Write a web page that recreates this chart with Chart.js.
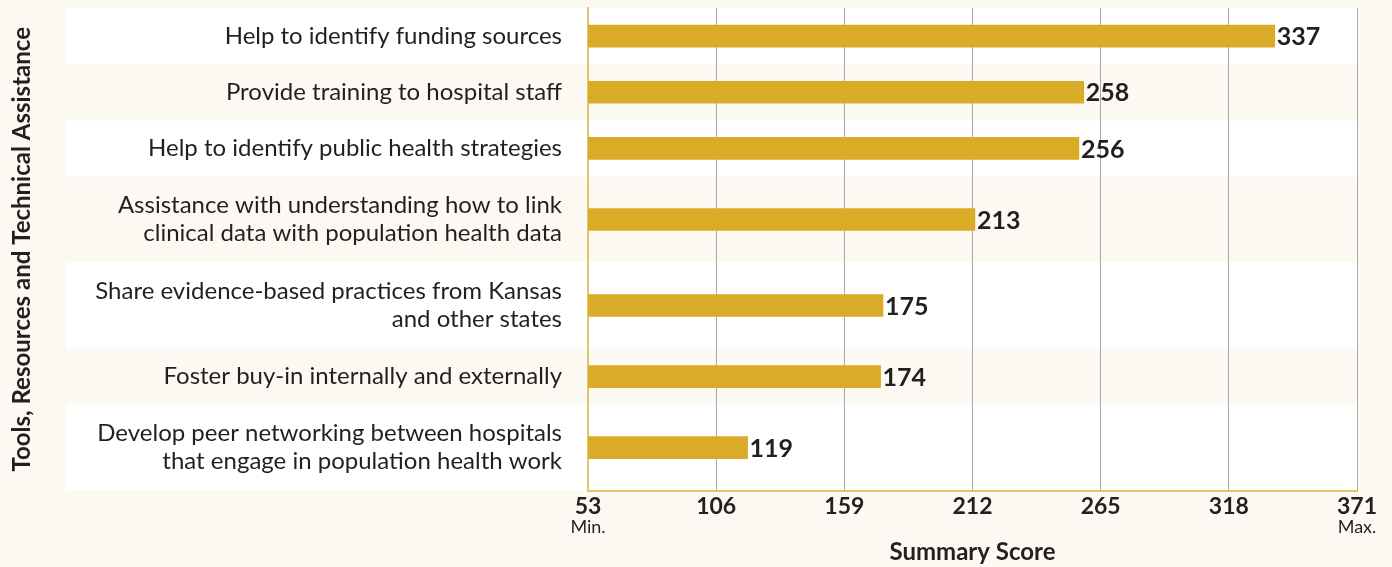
<!DOCTYPE html>
<html>
<head>
<meta charset="utf-8">
<script src="https://cdn.jsdelivr.net/npm/chart.js@4.4.1/dist/chart.umd.min.js"></script>
<style>
  html, body { margin: 0; padding: 0; background: #fcf9f2; }
  #wrap { width: 1392px; height: 567px; }
</style>
</head>
<body>
<div id="wrap"><canvas id="chart"></canvas></div>
<script>
// Dados do gráfico
const categories = [
  ['Help to identify funding sources'],
  ['Provide training to hospital staff'],
  ['Help to identify public health strategies'],
  ['Assistance with understanding how to link', 'clinical data with population health data'],
  ['Share evidence-based practices from Kansas', 'and other states'],
  ['Foster buy-in internally and externally'],
  ['Develop peer networking between hospitals', 'that engage in population health work']
];
const scores = [337, 258, 256, 213, 175, 174, 119];
const xTicks = [53, 106, 159, 212, 265, 318, 371];
const xTickNotes = ['Min.', '', '', '', '', '', 'Max.'];

// Altura de cada linha proporcional ao número de linhas do rótulo
const rowWeights = categories.map(c => 1 + 0.53 * (c.length - 1));
const rowStarts = [];
let acc = 0;
rowWeights.forEach(w => { rowStarts.push(acc); acc += w; });
const totalRows = acc;
const rowCenters = rowWeights.map((w, i) => rowStarts[i] + w / 2);

const textColor = '#231f20';
const barColor = '#daab26';
const axisGold = '#e4c56e';

// Fundo e faixas brancas alternadas
const bandsPlugin = {
  id: 'bands',
  beforeDraw(chart) {
    const { ctx, chartArea, scales } = chart;
    ctx.save();
    ctx.fillStyle = '#fcf9f2';
    ctx.fillRect(0, 0, chart.width, chart.height);
    ctx.fillStyle = '#ffffff';
    rowStarts.forEach((s, i) => {
      if (i % 2 !== 0) return;
      const y1 = scales.y.getPixelForValue(s);
      const y2 = scales.y.getPixelForValue(s + rowWeights[i]);
      ctx.fillRect(66, y1, chartArea.right - 66, y2 - y1);
    });
    ctx.restore();
  }
};

// Valores ao lado das barras
const valueLabels = {
  id: 'valueLabels',
  afterDatasetsDraw(chart) {
    const { ctx } = chart;
    const meta = chart.getDatasetMeta(0);
    ctx.save();
    ctx.font = 'bold 25px Lato';
    ctx.fillStyle = textColor;
    ctx.textAlign = 'left';
    ctx.textBaseline = 'middle';
    meta.data.forEach((bar, i) => {
      ctx.fillText(String(scores[i]), bar.x + 2, bar.y + 1);
    });
    ctx.restore();
  }
};

// "Min." / "Max." abaixo dos ticks
const tickNotes = {
  id: 'tickNotes',
  afterDraw(chart) {
    const { ctx, scales } = chart;
    ctx.save();
    ctx.font = '18px Lato';
    ctx.fillStyle = textColor;
    ctx.textAlign = 'center';
    ctx.textBaseline = 'middle';
    xTicks.forEach((t, i) => {
      if (!xTickNotes[i]) return;
      ctx.fillText(xTickNotes[i], scales.x.getPixelForValue(t), scales.x.top + 37);
    });
    ctx.restore();
  }
};

const ctx = document.getElementById('chart').getContext('2d');
const chart = new Chart(ctx, {
  type: 'bar',
  data: {
    datasets: [{
      data: scores.map((v, i) => ({ x: v, y: rowCenters[i] })),
      backgroundColor: barColor,
      borderWidth: 0,
      barThickness: 22
    }]
  },
  options: {
    indexAxis: 'y',
    responsive: true,
    maintainAspectRatio: false,
    animation: false,
    layout: { padding: { top: 8, right: 35, left: 0, bottom: 0 } },
    plugins: {
      legend: { display: false },
      tooltip: { enabled: false }
    },
    scales: {
      x: {
        type: 'linear',
        min: 53,
        max: 371,
        afterBuildTicks: axis => { axis.ticks = xTicks.map(v => ({ value: v })); },
        afterFit: axis => { axis.paddingRight = 0; axis.paddingLeft = 0; },
        ticks: {
          color: textColor,
          font: { family: 'Lato', size: 23, weight: 'bold' },
          padding: 2,
          maxRotation: 0,
          autoSkip: false
        },
        grid: {
          color: ctx => ctx.tick && ctx.tick.value === 53 ? 'rgba(0,0,0,0)' : '#ababab',
          lineWidth: 1,
          drawTicks: false
        },
        border: { color: axisGold, width: 2 },
        title: {
          display: true,
          text: 'Summary Score',
          color: textColor,
          font: { family: 'Lato', size: 24, weight: 'bold' },
          padding: { top: 16, bottom: 0 }
        }
      },
      y: {
        type: 'linear',
        reverse: true,
        min: 0,
        max: totalRows,
        offset: false,
        afterBuildTicks: axis => { axis.ticks = rowCenters.map(v => ({ value: v })); },
        afterFit: axis => { axis.width = 588; axis.paddingTop = 0; axis.paddingBottom = 0; },
        ticks: {
          callback: (value, index) => categories[index],
          color: textColor,
          font: { family: 'Lato', size: 24, lineHeight: 1.17 },
          padding: 18,
          autoSkip: false
        },
        grid: { display: false, offset: false },
        border: { color: axisGold, width: 2 },
        title: {
          display: true,
          text: 'Tools, Resources and Technical Assistance',
          color: textColor,
          font: { family: 'Lato', size: 24, weight: 'bold' },
          padding: { top: 8, bottom: 0 }
        }
      }
    }
  },
  plugins: [bandsPlugin, valueLabels, tickNotes]
});
</script>
</body>
</html>
